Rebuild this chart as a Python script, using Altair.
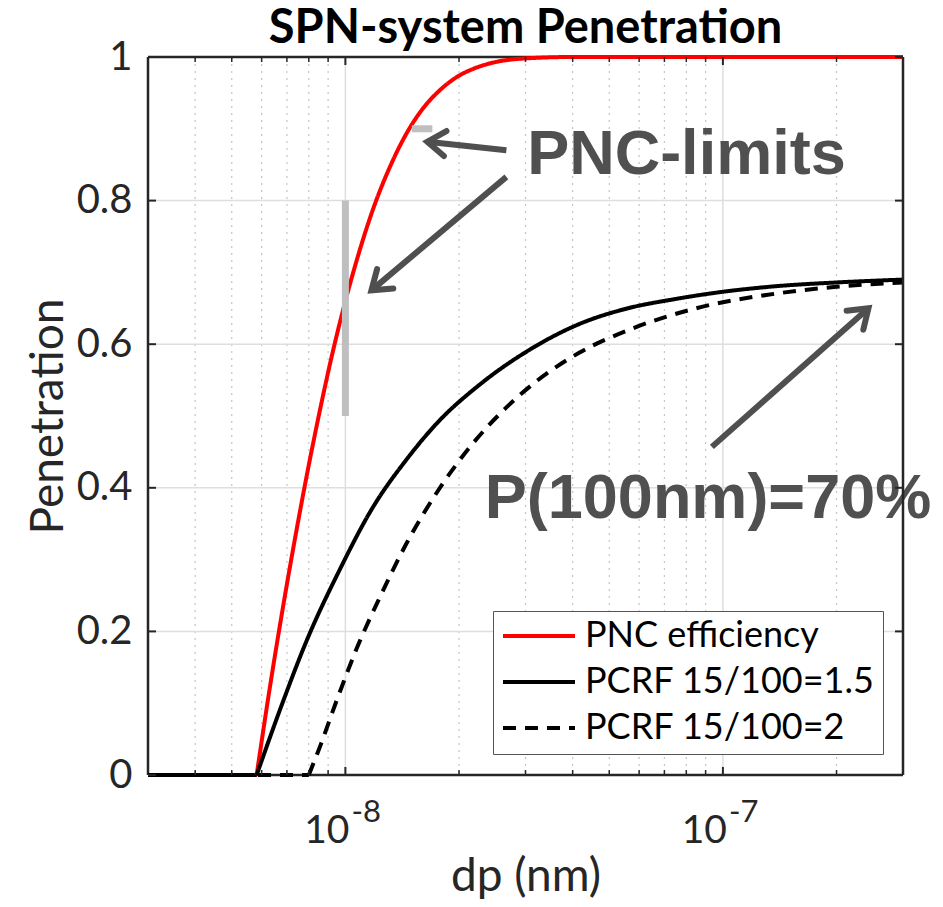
import altair as alt
import pandas as pd

# ---------------- data ----------------
series_names = ["PNC efficiency", "PCRF 15/100=1.5", "PCRF 15/100=2"]

red_x = [3.0e-9, 5.82e-9, 6.3e-9, 6.81e-9, 7.3e-9, 7.88e-9, 8.53e-9, 9.2e-9, 1.0e-8,
         1.09e-8, 1.18e-8, 1.32e-8, 1.476e-8, 1.62e-8, 1.773e-8, 2.0e-8, 2.17e-8, 2.5e-8,
         3.0e-8, 4.0e-8, 3.0e-7]
red_y = [0, 0, 0.12, 0.229, 0.32, 0.414, 0.504, 0.583, 0.66,
         0.73, 0.786, 0.85, 0.90, 0.931, 0.953, 0.974, 0.983, 0.993,
         0.998, 1.0, 1.0]

solid_x = [3.0e-9, 5.82e-9, 6.81e-9, 7.88e-9, 9.64e-9, 1.18e-8, 1.45e-8, 1.77e-8,
           2.26e-8, 3.07e-8, 4.16e-8, 5.6e-8, 7.5e-8, 1.0e-7, 1.4e-7, 2.0e-7, 3.0e-7]
solid_y = [0, 0, 0.10, 0.186, 0.285, 0.372, 0.439, 0.493,
           0.543, 0.592, 0.628, 0.650, 0.663, 0.673, 0.681, 0.686, 0.690]

dash_x = [3.0e-9, 8.0e-9, 8.6e-9, 9.47e-9, 1.069e-8, 1.23e-8, 1.45e-8, 1.77e-8,
          2.17e-8, 2.67e-8, 3.2e-8, 4.16e-8, 5.64e-8, 8.49e-8, 1.406e-7, 2.0e-7, 3.0e-7]
dash_y = [0, 0, 0.042, 0.103, 0.175, 0.246, 0.322, 0.398,
          0.461, 0.512, 0.548, 0.588, 0.62, 0.65, 0.671, 0.680, 0.686]

# tick / grid values
x_major = [1e-8, 1e-7]
x_minor = [4e-9, 5e-9, 6e-9, 7e-9, 8e-9, 9e-9,
           2e-8, 3e-8, 4e-8, 5e-8, 6e-8, 7e-8, 8e-8, 9e-8,
           2e-7, 3e-7]
x_label_base = ["10", "10"]
x_label_exp = ["-8", "-7"]
y_ticks = [0, 0.2, 0.4, 0.6, 0.8, 1.0]
y_grid = [0.2, 0.4, 0.6, 0.8]

# PNC-limit markers
vbar_x = [1e-8]
vbar_y1 = [0.5]
vbar_y2 = [0.8]
hbar_x1 = [1.5e-8]
hbar_x2 = [1.7e-8]
hbar_y = [0.9]

# arrows (tail -> head)
arrow_x1 = [2.67e-8, 2.67e-8, 9.35e-8]
arrow_y1 = [0.870, 0.833, 0.457]
arrow_x2 = [1.648e-8, 1.172e-8, 2.43e-7]
arrow_y2 = [0.882, 0.675, 0.650]
arrow_angle = [275.8, 230.0, 48.5]

# annotation texts
ann_text = ["PNC-limits", "P(100nm)=70%"]
ann_x = [3.03e-8, 2.34e-8]
ann_y = [0.837, 0.358]

# ---------------- build tables ----------------
flat_rows, rise_rows = [], []
for name, xs, ys in zip(series_names, [red_x, solid_x, dash_x], [red_y, solid_y, dash_y]):
    for i, (a, b) in enumerate(zip(xs, ys)):
        rec = {"series": name, "dp": a, "p": b, "ord": i}
        if i <= 1:
            flat_rows.append(rec)
        if i >= 1:
            rise_rows.append(rec)
df_flat = pd.DataFrame(flat_rows)
df_rise = pd.DataFrame(rise_rows)

W, H = 755, 718
FONT = "Lato"
xscale = alt.Scale(type="log", domain=[3e-9, 3e-7], nice=False)
yscale = alt.Scale(domain=[0, 1], nice=False, zero=False)

xaxis = alt.Axis(title="dp (nm)", labels=False, ticks=False, grid=False, domain=False,
                 titleY=115, titleBaseline="alphabetic")
yaxis = alt.Axis(title="Penetration", values=y_ticks, format="~g", grid=False, ticks=False,
                 domain=False, labelPadding=16, titleX=-86, titleY=H / 2, titleAngle=270,
                 titleBaseline="alphabetic", titleAlign="center")


def X(field):
    return alt.X(field, type="quantitative", scale=xscale, axis=xaxis)


def Y(field):
    return alt.Y(field, type="quantitative", scale=yscale, axis=yaxis)


df_xmaj = pd.DataFrame({"v": x_major})
df_xmin = pd.DataFrame({"v": x_minor})
df_yg = pd.DataFrame({"v": y_grid})
df_yt = pd.DataFrame({"v": y_ticks})
df_one = pd.DataFrame({"v": [0]})

grid_minor = alt.Chart(df_xmin).mark_rule(color="#c4c4c4", strokeWidth=1.2, strokeDash=[2, 5]).encode(
    x=X("v"), y=alt.value(0), y2=alt.value(H))
grid_major = alt.Chart(df_xmaj).mark_rule(color="#dedede", strokeWidth=1.5).encode(
    x=X("v"), y=alt.value(0), y2=alt.value(H))
grid_y = alt.Chart(df_yg).mark_rule(color="#dedede", strokeWidth=1.5).encode(
    y=Y("v"), x=alt.value(0), x2=alt.value(W))

frame_col = "#262626"
frame_top = alt.Chart(df_one).mark_rule(color=frame_col, strokeWidth=2.5).encode(
    x=alt.value(0), x2=alt.value(W), y=alt.value(0))
frame_bot = alt.Chart(df_one).mark_rule(color=frame_col, strokeWidth=2.5).encode(
    x=alt.value(0), x2=alt.value(W), y=alt.value(H))
frame_left = alt.Chart(df_one).mark_rule(color=frame_col, strokeWidth=2.5).encode(
    x=alt.value(0), y=alt.value(0), y2=alt.value(H))
frame_right = alt.Chart(df_one).mark_rule(color=frame_col, strokeWidth=2.5).encode(
    x=alt.value(W), y=alt.value(0), y2=alt.value(H))

legend = alt.Legend(title=None, orient="none", legendX=345, legendY=554,
                    symbolType="stroke", symbolSize=5184, symbolStrokeWidth=4,
                    clipHeight=34, labelFontSize=36, labelFont=FONT, labelColor="#000000",
                    labelOffset=8, rowPadding=10, padding=8, strokeColor="#555555",
                    fillColor="#ffffff", cornerRadius=0, labelLimit=500)

color_enc = alt.Color("series:N", scale=alt.Scale(domain=series_names,
                                                   range=["#ff0000", "#000000", "#000000"]),
                      legend=legend)
dash_enc = alt.StrokeDash("series:N", scale=alt.Scale(domain=series_names,
                                                      range=[[1, 0], [1, 0], [13, 9]]),
                          legend=legend)

lines_flat = alt.Chart(df_flat).mark_line(strokeWidth=4).encode(
    x=X("dp"), y=Y("p"), color=color_enc, strokeDash=dash_enc, order=alt.Order("ord:Q"))
lines_rise = alt.Chart(df_rise).mark_line(strokeWidth=4, interpolate="monotone").encode(
    x=X("dp"), y=Y("p"), color=color_enc, strokeDash=dash_enc, order=alt.Order("ord:Q"))

df_vbar = pd.DataFrame({"x": vbar_x, "y1": vbar_y1, "y2": vbar_y2})
df_hbar = pd.DataFrame({"x1": hbar_x1, "x2": hbar_x2, "y": hbar_y})
vbar = alt.Chart(df_vbar).mark_rule(color="#bfbfbf", strokeWidth=7).encode(
    x=X("x"), y=Y("y1"), y2="y2")
hbar = alt.Chart(df_hbar).mark_rule(color="#bfbfbf", strokeWidth=7).encode(
    x=X("x1"), x2="x2", y=Y("y"))

df_arr = pd.DataFrame({"x1": arrow_x1, "y1": arrow_y1, "x2": arrow_x2, "y2": arrow_y2,
                       "ang": arrow_angle})
arrow_col = "#4f4f4f"
shafts = alt.Chart(df_arr).mark_rule(color=arrow_col, strokeWidth=6).encode(
    x=X("x1"), y=Y("y1"), x2="x2", y2="y2")
heads = alt.Chart(df_arr).mark_point(shape="M -0.7 1 L 0 0 L 0.7 1", filled=False,
                                     stroke=arrow_col, strokeWidth=6, size=1296,
                                     strokeCap="round", strokeJoin="miter", opacity=1).encode(
    x=X("x2"), y=Y("y2"), angle=alt.Angle("ang:Q", scale=None))

df_ann = pd.DataFrame({"t": ann_text, "x": ann_x, "y": ann_y})
ann = alt.Chart(df_ann).mark_text(align="left", baseline="alphabetic", font="Liberation Sans",
                                  fontWeight="bold", fontSize=63, color="#505050").encode(
    x=X("x"), y=Y("y"), text="t:N")

df_xl = pd.DataFrame({"v": x_major, "b": x_label_base, "e": x_label_exp})
xl_base = alt.Chart(df_xl).mark_text(align="right", baseline="alphabetic", font=FONT,
                                     fontSize=39, dx=4, color="#262626").encode(
    x=X("v"), y=alt.value(786), text="b:N")
xl_exp = alt.Chart(df_xl).mark_text(align="left", baseline="alphabetic", font=FONT,
                                    fontSize=31, dx=6, color="#262626").encode(
    x=X("v"), y=alt.value(765), text="e:N")

tick_col = "#262626"
t_xmaj_b = alt.Chart(df_xmaj).mark_rule(color=tick_col, strokeWidth=2).encode(
    x=X("v"), y=alt.value(H), y2=alt.value(H - 8))
t_xmaj_t = alt.Chart(df_xmaj).mark_rule(color=tick_col, strokeWidth=2).encode(
    x=X("v"), y=alt.value(0), y2=alt.value(8))
t_xmin_b = alt.Chart(df_xmin).mark_rule(color=tick_col, strokeWidth=1.5).encode(
    x=X("v"), y=alt.value(H), y2=alt.value(H - 5))
t_xmin_t = alt.Chart(df_xmin).mark_rule(color=tick_col, strokeWidth=1.5).encode(
    x=X("v"), y=alt.value(0), y2=alt.value(5))
t_y_l = alt.Chart(df_yt).mark_rule(color=tick_col, strokeWidth=2).encode(
    y=Y("v"), x=alt.value(0), x2=alt.value(8))
t_y_r = alt.Chart(df_yt).mark_rule(color=tick_col, strokeWidth=2).encode(
    y=Y("v"), x=alt.value(W), x2=alt.value(W - 8))

chart = alt.layer(
    grid_minor, grid_major, grid_y,
    frame_top, frame_bot, frame_left,
    lines_flat, lines_rise, vbar, hbar, shafts, heads, ann,
    frame_right,
    t_xmaj_b, t_xmaj_t, t_xmin_b, t_xmin_t, t_y_l, t_y_r,
    xl_base, xl_exp,
).properties(
    width=W, height=H,
    title=alt.TitleParams("SPN-system Penetration", font=FONT, fontSize=47, fontWeight="bold",
                          color="#000000", anchor="middle", offset=12, dy=28),
    autosize=alt.AutoSizeParams(type="none"),
    padding={"left": 140, "top": 49, "right": 32, "bottom": 124},
).configure_view(
    stroke=None
).configure_axis(
    labelFont=FONT, labelFontSize=40, labelColor="#262626",
    titleFont=FONT, titleFontSize=46, titleFontWeight="normal", titleColor="#262626",
)

chart.save("out.html", embed_options={"renderer": "svg", "actions": False})
